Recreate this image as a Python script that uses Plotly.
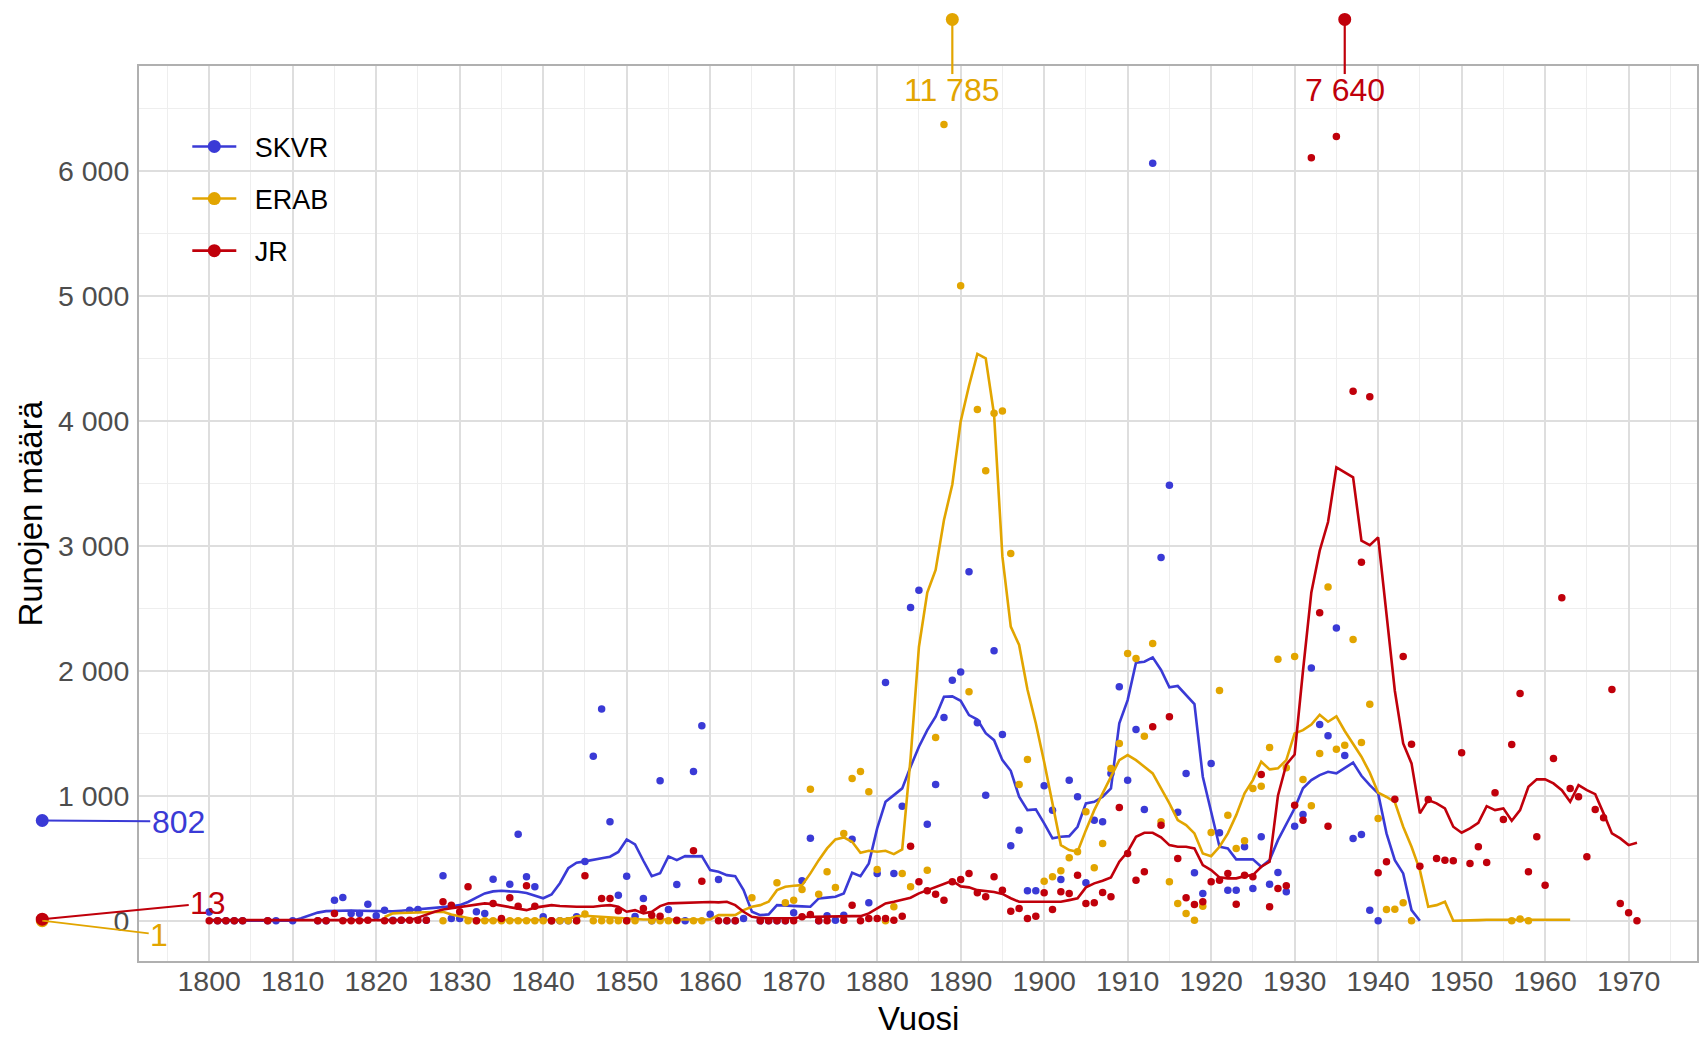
import plotly.graph_objects as go

# ---------------- data ----------------
series_names = ["SKVR", "ERAB", "JR"]
series_colors = {"SKVR": "#3A3AD6", "ERAB": "#E2A500", "JR": "#C0000B"}

skvr_pt_years = [1800,1801,1802,1803,1804,1807,1808,1810,1813,1814,1815,1816,1817,1818,1819,1820,1821,1822,1823,1824,
                 1825,1826,1828,1829,1830,1832,1833,1834,1836,1837,1838,1839,1840,1841,1842,1843,1844,1845,1846,1847,
                 1848,1849,1850,1851,1852,1853,1854,1855,1856,1857,1858,1859,1860,1861,1862,1863,1864,1866,1867,1868,
                 1869,1870,1871,1872,1873,1874,1875,1876,1877,1879,1880,1881,1882,1883,1884,1885,1886,1887,1888,1889,
                 1890,1891,1892,1893,1894,1895,1896,1897,1898,1899,1900,1901,1902,1903,1904,1905,1906,1907,1908,1909,
                 1910,1911,1912,1913,1914,1915,1916,1917,1918,1919,1920,1921,1922,1923,1924,1925,1926,1927,1928,1929,
                 1930,1931,1932,1933,1934,1935,1936,1937,1938,1939,1940]
skvr_pt_values = [70,0,0,0,0,0,0,0,0,0,165,187,59,59,133,40,85,5,5,85,
                  91,5,360,19,19,72,59,333,293,693,352,272,32,0,0,0,32,475,1317,1694,
                  792,205,357,35,179,0,1120,90,291,0,1195,1560,53,331,0,0,19,0,0,0,
                  0,64,320,661,0,40,5,45,653,144,379,1907,379,917,2507,2645,773,1091,1627,1925,
                  1990,2792,1584,1005,2160,1491,600,725,240,240,1080,885,331,1125,992,304,805,792,1179,1872,
                  1125,1531,891,6060,2907,3485,869,1179,384,219,1259,704,245,245,592,259,672,293,387,232,
                  757,851,2022,1571,1480,2343,1323,659,691,85,0]

erab_pt_years = [1828,1831,1832,1833,1834,1835,1836,1837,1838,1839,1840,1841,1842,1843,1844,1845,1846,1847,1848,1849,
                 1850,1851,1853,1854,1855,1856,1858,1859,1865,1868,1869,1870,1871,1872,1873,1874,1875,1876,1877,1878,
                 1879,1880,1881,1882,1883,1884,1886,1887,1888,1889,1890,1891,1892,1893,1894,1895,1896,1897,1898,1900,
                 1901,1902,1903,1904,1905,1906,1907,1908,1909,1910,1911,1912,1913,1914,1915,1916,1917,1918,1919,1920,
                 1921,1922,1923,1924,1925,1926,1927,1928,1929,1930,1931,1932,1933,1934,1935,1936,1937,1938,1939,1940,
                 1941,1942,1943,1944,1956,1957,1958]
erab_pt_values = [0,0,0,0,0,0,0,0,0,0,0,0,0,0,0,55,0,0,0,0,
                  0,0,0,0,0,0,0,0,184,304,144,165,251,1053,213,392,267,699,1139,1195,
                  1032,411,0,112,379,272,405,1467,6370,11785,5080,1832,4091,3600,4060,4078,2938,1091,1291,317,
                  352,400,504,552,872,424,619,1219,1419,2139,2099,1477,2219,792,312,139,59,5,117,707,
                  1842,845,579,640,1059,1077,1387,2092,1224,2115,1131,920,1339,2670,1373,1405,2250,1427,1733,819,
                  90,93,144,0,0,15,0]

jr_pt_years = [1800,1801,1802,1803,1804,1807,1813,1814,1815,1816,1817,1818,1819,1821,1822,1823,1824,1825,1826,1828,
               1829,1830,1831,1832,1834,1835,1836,1837,1838,1839,1841,1844,1845,1847,1848,1849,1850,1852,1853,1854,
               1856,1858,1859,1861,1862,1863,1866,1867,1868,1869,1870,1871,1872,1873,1874,1876,1877,1878,1879,1880,
               1881,1882,1883,1884,1885,1886,1887,1888,1889,1890,1891,1892,1893,1894,1895,1896,1897,1898,1899,1900,
               1901,1902,1903,1904,1905,1906,1907,1908,1909,1910,1911,1912,1913,1914,1915,1916,1917,1918,1919,1920,
               1921,1922,1923,1924,1925,1926,1927,1928,1929,1930,1931,1932,1933,1934,1935,1936,1937,1938,1939,1940,
               1941,1942,1943,1944,1945,1946,1947,1948,1949,1950,1951,1952,1953,1954,1955,1956,1957,1958,1959,1960,
               1961,1962,1963,1964,1965,1966,1967,1968,1969,1970,1971]
jr_pt_values = [0,0,0,0,0,0,0,0,59,0,0,0,5,0,0,5,5,5,5,152,
                125,72,272,0,139,19,184,117,280,117,0,0,360,179,179,80,0,99,45,37,
                5,560,317,0,0,0,0,0,0,0,0,32,51,0,0,5,125,0,19,19,
                19,5,37,597,312,240,213,165,312,331,379,224,192,352,245,77,99,19,37,224,
                91,232,219,365,139,144,227,192,907,539,325,392,1552,765,1632,499,184,131,152,312,
                325,379,133,365,352,1171,112,259,280,925,805,6105,2465,757,6275,7640,4236,2868,4193,384,
                472,973,2115,1413,437,971,499,485,480,1344,459,592,467,1024,811,1411,1819,392,672,285,
                1299,2584,1059,992,512,891,824,1851,139,64,0]

skvr_line_years = list(range(1800, 1946))
skvr_line_values = [0,0,0,0,0,0,0,0,0,0,0,20,45,65,77,80,82,82,80,78,
                    75,72,75,80,85,90,95,100,105,115,125,150,185,219,235,240,235,232,222,200,
                    180,210,300,420,465,475,490,500,512,550,650,610,480,357,380,515,485,517,515,517,
                    405,392,365,357,245,72,45,51,125,120,117,115,112,179,185,192,219,384,357,459,
                    739,952,1005,1059,1232,1392,1525,1632,1792,1795,1760,1645,1610,1500,1445,1285,1200,992,885,891,
                    779,659,672,677,752,939,952,992,1059,1579,1765,2064,2072,2107,2006,1867,1878,1806,1734,1152,
                    859,592,579,491,491,491,432,485,645,779,900,1060,1125,1165,1192,1179,1219,1265,1160,1085,
                    1019,699,485,379,85,0]

erab_line_years = list(range(1821, 1964))
erab_line_values = [30,59,62,65,68,70,72,72,50,35,20,8,5,5,5,5,5,5,5,5,
                    5,8,15,35,40,35,30,25,20,15,10,10,10,10,10,10,10,10,10,10,
                    45,45,45,85,112,125,152,245,272,280,285,379,485,579,651,667,632,544,560,552,
                    560,533,571,1300,2190,2625,2806,3206,3490,3995,4280,4535,4500,4050,2913,2353,2206,1850,1580,1270,
                    950,605,565,552,725,885,1019,1152,1285,1325,1285,1232,1179,1059,939,805,765,699,539,517,
                    592,699,845,1019,1125,1272,1211,1219,1285,1499,1525,1570,1648,1592,1635,1518,1419,1312,1185,1025,
                    990,950,752,592,405,112,125,152,0,0,0,5,8,8,8,8,8,8,8,8,
                    8,8,8]

jr_line_years = list(range(1800, 1972))
jr_line_values = [5,5,5,5,5,5,5,5,5,5,5,5,5,5,5,5,5,5,5,5,
                  5,5,5,5,5,25,50,72,90,100,112,122,132,139,133,120,107,95,85,105,
                  117,125,118,112,112,112,112,120,125,112,72,85,59,72,117,139,142,144,148,152,
                  150,147,152,125,72,32,22,19,19,19,20,30,32,35,37,37,37,37,37,59,
                  99,139,152,165,184,219,245,272,299,320,275,267,245,237,230,215,180,152,152,152,
                  152,152,152,165,179,267,299,320,347,472,552,672,704,704,667,605,592,592,579,445,
                  405,347,339,339,357,365,432,472,1000,1250,1330,2000,2627,2960,3190,3627,3587,3547,3040,3005,
                  3067,2450,1840,1419,1259,859,965,939,899,752,704,739,784,917,885,899,800,885,1072,1131,
                  1131,1099,1045,952,1085,1045,1013,859,699,659,605,624]

# counts dated before the x-range (drawn in the left margin)
pre_x = 1780
pre_values = {"SKVR": 802, "ERAB": 1, "JR": 13}

x_tick_vals = list(range(1800, 1971, 10))
x_tick_text = [str(v) for v in x_tick_vals]
y_tick_vals = [0, 1000, 2000, 3000, 4000, 5000, 6000]
y_tick_text = ["0", "1 000", "2 000", "3 000", "4 000", "5 000", "6 000"]

x_range = [1791.59, 1978.19]
y_range = [-322, 6838]

points = {"SKVR": (skvr_pt_years, skvr_pt_values),
          "ERAB": (erab_pt_years, erab_pt_values),
          "JR": (jr_pt_years, jr_pt_values)}
lines = {"SKVR": (skvr_line_years, skvr_line_values),
         "ERAB": (erab_line_years, erab_line_values),
         "JR": (jr_line_years, jr_line_values)}

FONT = "Liberation Sans, Arial, sans-serif"


def fmt(v):
    return f"{v:,}".replace(",", " ")


def year_to_paper(yr):
    return (yr - x_range[0]) / (x_range[1] - x_range[0])


fig = go.Figure()

for name in series_names:
    c = series_colors[name]
    py, pv = points[name]
    fig.add_trace(go.Scatter(x=py, y=pv, mode="markers", showlegend=False,
                             marker=dict(color=c, size=7.5, line=dict(width=0))))
    ly, lv = lines[name]
    fig.add_trace(go.Scatter(x=ly, y=lv, mode="lines", showlegend=False,
                             line=dict(color=c, width=2.6)))

# legend entries (en space gives the gap between glyph and label)
for name in series_names:
    c = series_colors[name]
    fig.add_trace(go.Scatter(x=[None], y=[None], mode="lines+markers", name="\u2002" + name,
                             legendgroup=name,
                             line=dict(color=c, width=2.6), marker=dict(color=c, size=13)))

# pre-1800 counts in the left margin
label_offsets = {"SKVR": (136, 1), "ERAB": (117, 14), "JR": (166, -16)}
for name in series_names:
    c = series_colors[name]
    xp = year_to_paper(pre_x)
    v = pre_values[name]
    ax, ay = label_offsets[name]
    fig.add_annotation(x=xp, y=v, xref="paper", yref="y", text=fmt(v),
                       showarrow=True, arrowhead=0, arrowwidth=2, arrowcolor=c, ax=ax, ay=ay,
                       standoff=0, startstandoff=0, font=dict(family=FONT, size=32, color=c))
    fig.add_shape(type="circle", xref="paper", yref="y", xsizemode="pixel", ysizemode="pixel",
                  xanchor=xp, yanchor=v, x0=-6.5, x1=6.5, y0=-6.5, y1=6.5,
                  fillcolor=c, line=dict(width=0), layer="above")

# values above the y-range: marker above the panel with label
marker_y, stem_end_y, label_y = 1.052, 0.991, 0.973
for name in series_names:
    c = series_colors[name]
    py, pv = points[name]
    for yr, v in zip(py, pv):
        if v > y_range[1]:
            fig.add_shape(type="line", xref="x", yref="paper", x0=yr, x1=yr, y0=marker_y, y1=stem_end_y,
                          line=dict(color=c, width=2.2), layer="above")
            fig.add_shape(type="circle", xref="x", yref="paper", xsizemode="pixel", ysizemode="pixel",
                          xanchor=yr, yanchor=marker_y, x0=-6.5, x1=6.5, y0=-6.5, y1=6.5,
                          fillcolor=c, line=dict(width=0), layer="above")
            fig.add_annotation(x=yr, y=label_y, xref="x", yref="paper", text=fmt(v), showarrow=False,
                               yanchor="middle", font=dict(family=FONT, size=32, color=c))

# axis titles
fig.add_annotation(x=0.5, y=-0.0648, xref="paper", yref="paper", text="Vuosi", showarrow=False,
                   yanchor="middle", font=dict(family=FONT, size=33, color="black"))
fig.add_annotation(x=-0.0699, y=0.5, xref="paper", yref="paper", text="Runojen määrä", showarrow=False,
                   textangle=-90, xanchor="center", font=dict(family=FONT, size=33, color="black"))

axis_common = dict(showline=True, mirror=True, linecolor="#B0B0B0", linewidth=2,
                   gridcolor="#DEDEDE", gridwidth=1.6, zeroline=False,
                   tickfont=dict(family=FONT, size=28.5, color="#4D4D4D"))

fig.update_layout(
    width=1701, height=1037,
    margin=dict(l=139, r=2, t=66, b=76),
    plot_bgcolor="white", paper_bgcolor="white",
    font=dict(family=FONT),
    xaxis=dict(range=x_range, tickvals=x_tick_vals, ticktext=x_tick_text, ticks="",
               ticklabelstandoff=-6,
               minor=dict(dtick=5, tick0=1795, showgrid=True, gridcolor="#EEEEEE", gridwidth=1),
               **axis_common),
    yaxis=dict(range=y_range, tickvals=y_tick_vals, ticktext=y_tick_text, ticks="outside",
               ticklen=2, tickcolor="rgba(0,0,0,0)",
               minor=dict(dtick=500, tick0=0, showgrid=True, gridcolor="#EEEEEE", gridwidth=1),
               **axis_common),
    legend=dict(x=0.031, y=0.937, xanchor="left", yanchor="top", bgcolor="rgba(0,0,0,0)",
                font=dict(family=FONT, size=27, color="black"), tracegroupgap=14, itemwidth=44),
    showlegend=True,
)

fig.write_html("out.html", config={"displayModeBar": False},
               post_script="document.body.style.margin='0';document.body.style.padding='0';")
